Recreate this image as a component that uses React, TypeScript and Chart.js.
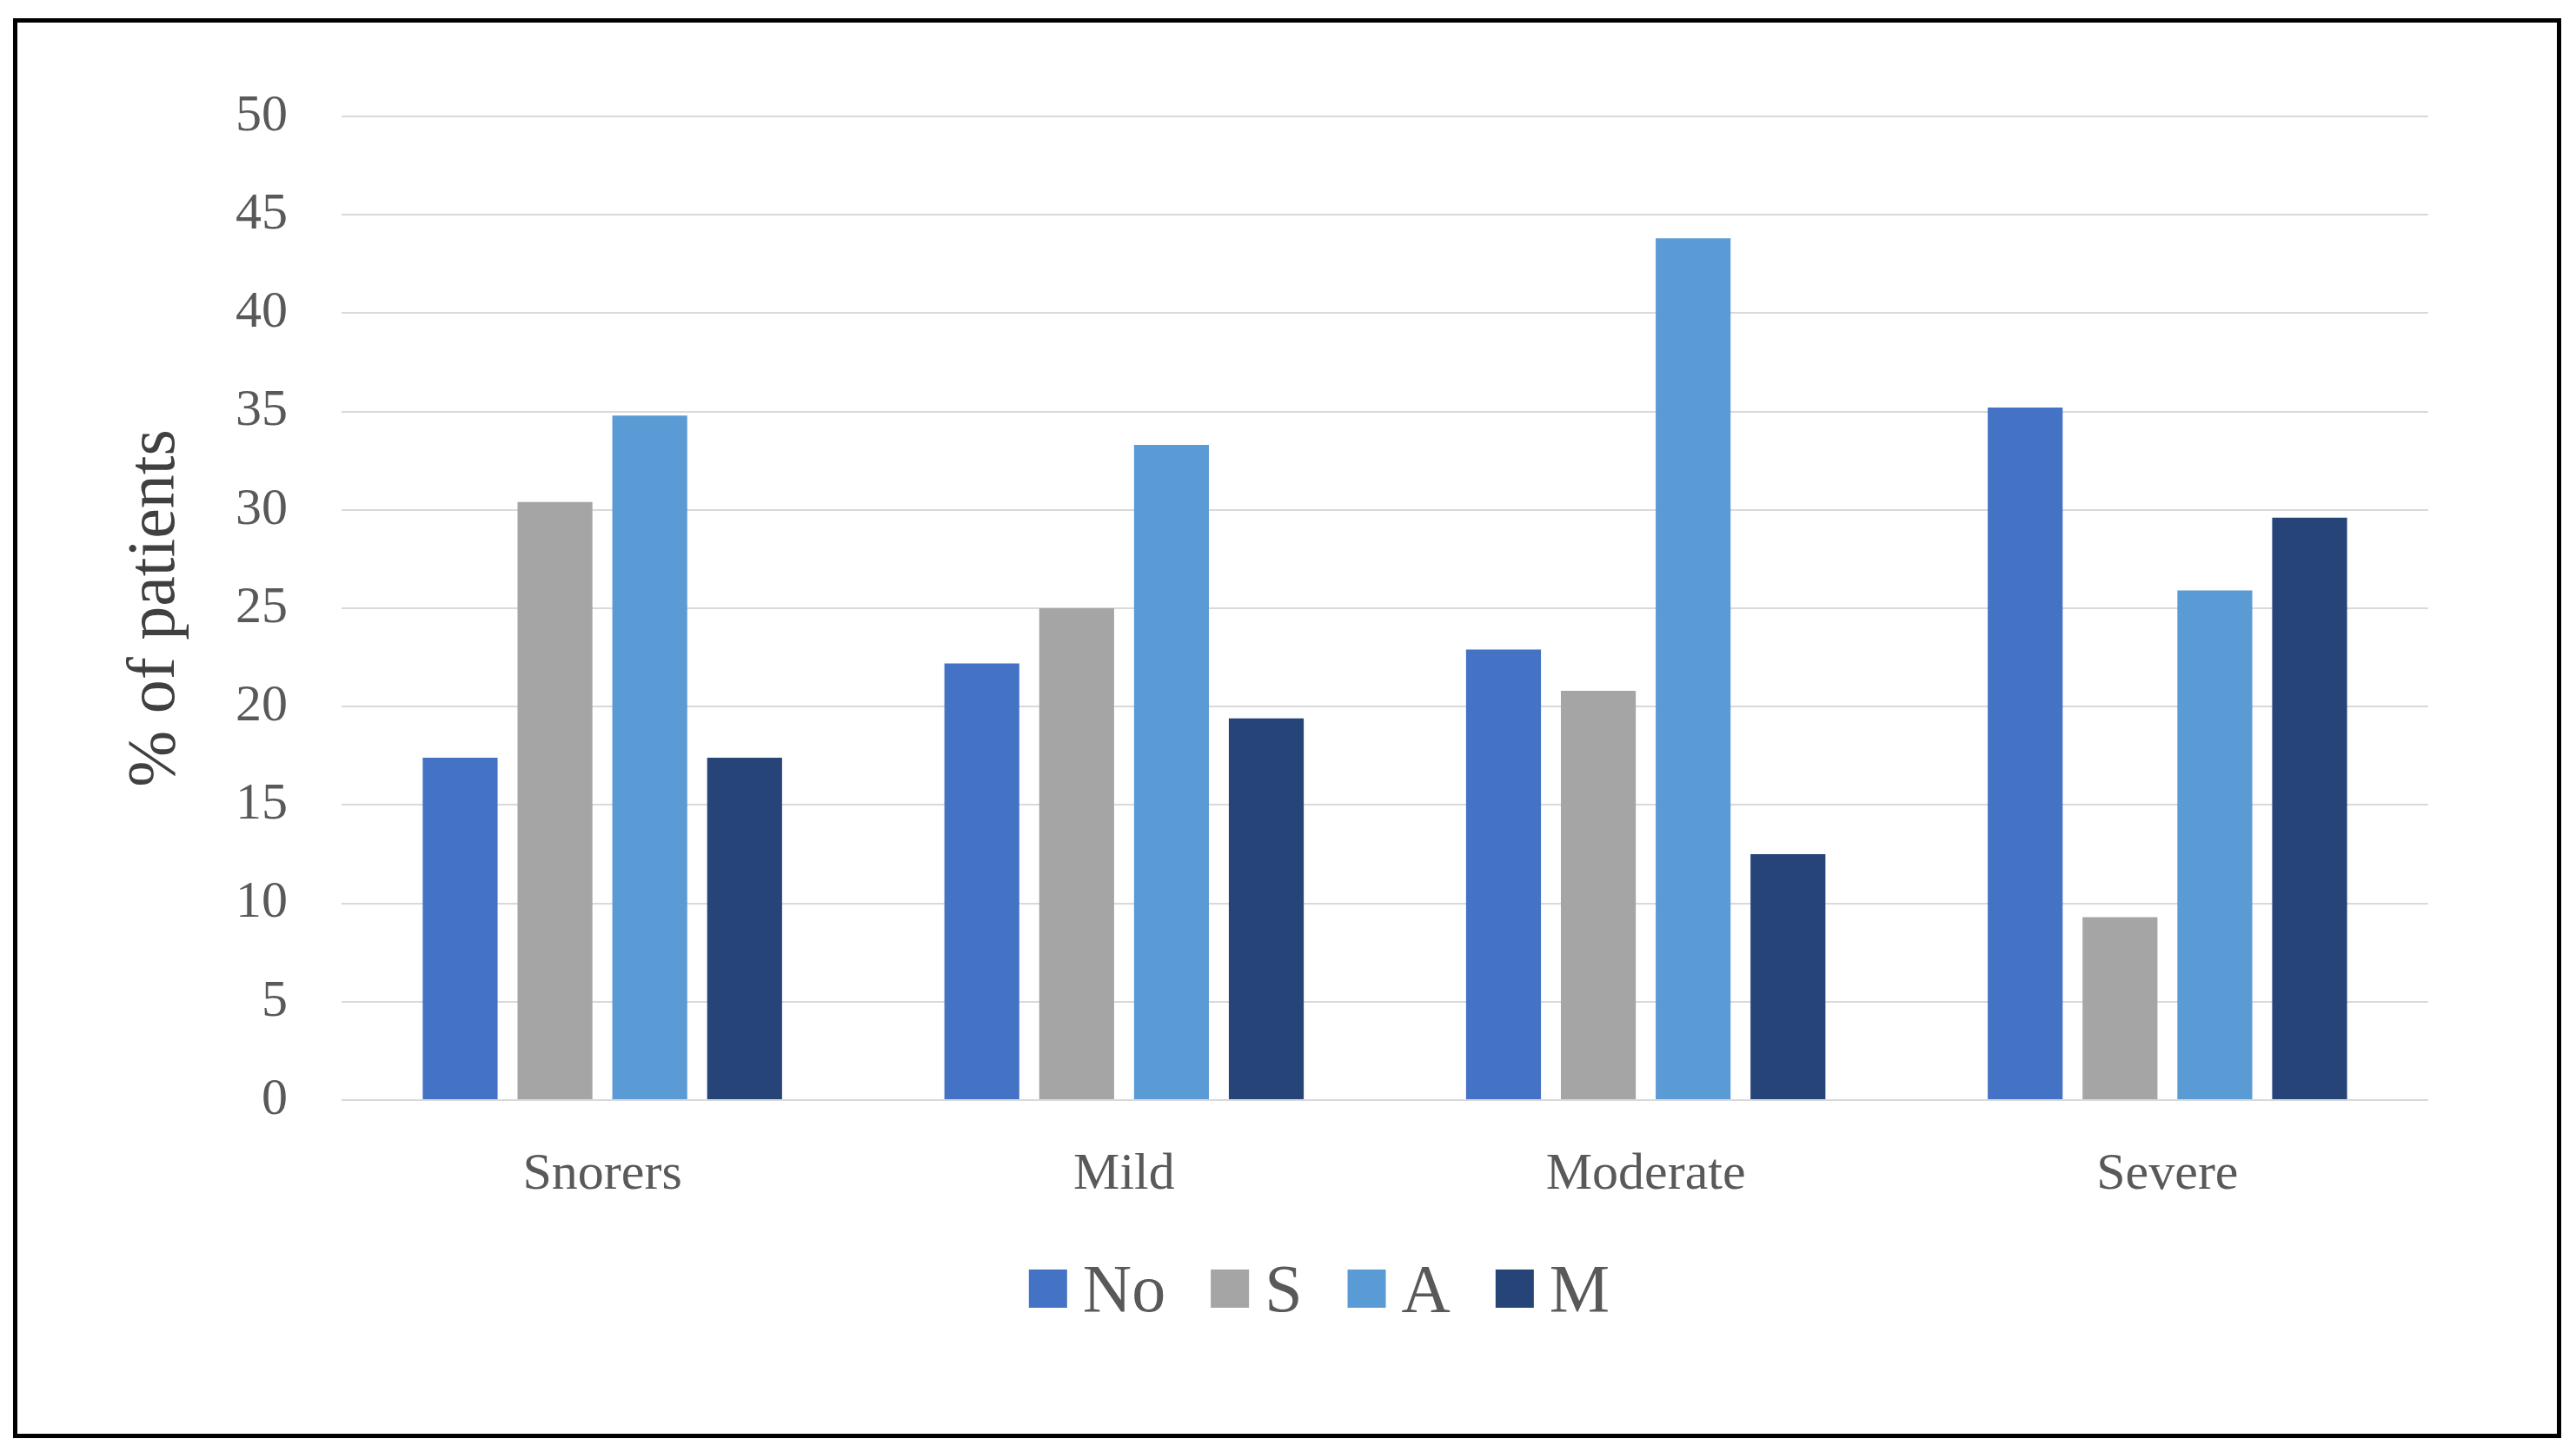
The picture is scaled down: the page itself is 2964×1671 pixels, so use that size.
import React, { useEffect, useRef } from "react";
import { Chart, registerables } from "chart.js";

Chart.register(...registerables);

const categories = ["Snorers", "Mild", "Moderate", "Severe"];
const seriesNames = ["No", "S", "A", "M"];
const noValues = [17.4, 22.2, 22.9, 35.2];
const sValues = [30.4, 25.0, 20.8, 9.3];
const aValues = [34.8, 33.3, 43.8, 25.9];
const mValues = [17.4, 19.4, 12.5, 29.6];
const seriesColors = ["#4472C4", "#A5A5A5", "#5B9BD5", "#264478"];
const yMin = 0;
const yMax = 50;
const yStep = 5;
const yTitle = "% of patients";

const FONT = "'Liberation Serif', 'Times New Roman', serif";
const TEXT_COLOR = "#595959";

const legendPlugin = {
  id: "bottomLegend",
  afterDraw(chart: any) {
    const ctx = chart.ctx as CanvasRenderingContext2D;
    ctx.save();
    ctx.font = `78px ${FONT}`;
    const box = 44;
    const gapText = 18;
    const gapItem = 52;
    const items = chart.data.datasets.map((ds: any) => ({
      label: ds.label as string,
      color: ds.backgroundColor as string,
      w: ctx.measureText(ds.label).width,
    }));
    const total =
      items.reduce((s: number, it: any) => s + box + gapText + it.w, 0) +
      gapItem * (items.length - 1);
    let x = chart.width / 2 + 36 - total / 2;
    const cy = chart.chartArea.bottom + 217;
    ctx.textBaseline = "alphabetic";
    ctx.textAlign = "left";
    for (const it of items) {
      ctx.fillStyle = it.color;
      ctx.fillRect(x, cy - box / 2, box, box);
      x += box + gapText;
      ctx.fillStyle = TEXT_COLOR;
      ctx.fillText(it.label, x, cy + 26);
      x += it.w + gapItem;
    }
    ctx.restore();
  },
};

export default function App() {
  const canvasRef = useRef<HTMLCanvasElement | null>(null);

  useEffect(() => {
    if (!canvasRef.current) return;
    const seriesValues = [noValues, sValues, aValues, mValues];
    const chart = new Chart(canvasRef.current, {
      type: "bar",
      data: {
        labels: categories,
        datasets: seriesNames.map((name, i) => ({
          label: name,
          data: seriesValues[i],
          backgroundColor: seriesColors[i],
          borderWidth: 0,
          categoryPercentage: 0.727,
          barPercentage: 0.79,
        })),
      },
      options: {
        animation: false,
        responsive: false,
        maintainAspectRatio: false,
        devicePixelRatio: 1,
        layout: { padding: { left: 100, right: 170, top: 134, bottom: 285 } },
        plugins: {
          legend: { display: false },
          tooltip: { enabled: false },
          title: { display: false },
        },
        scales: {
          x: {
            grid: { display: false, drawTicks: false },
            border: { display: false },
            ticks: {
              color: TEXT_COLOR,
              font: { family: FONT, size: 60 },
              padding: 50,
            },
            afterFit: (scale: any) => {
              scale.height = 120;
            },
          },
          y: {
            min: yMin,
            max: yMax,
            ticks: {
              stepSize: yStep,
              color: TEXT_COLOR,
              font: { family: FONT, size: 60 },
              padding: 62,
            },
            grid: { color: "#D9D9D9", lineWidth: 2, drawTicks: false },
            border: { display: false },
            title: {
              display: true,
              text: yTitle,
              color: "#404040",
              font: { family: FONT, size: 78, weight: "normal" },
              padding: { top: 33, bottom: 40 },
            },
            afterFit: (scale: any) => {
              scale.width = 293;
            },
          },
        },
      },
      plugins: [legendPlugin],
    });
    return () => chart.destroy();
  }, []);

  return (
    <div
      style={{
        position: "absolute",
        left: 0,
        top: 0,
        width: 2964,
        height: 1671,
        background: "#ffffff",
        overflow: "hidden",
      }}
    >
      <canvas
        ref={canvasRef}
        width={2964}
        height={1671}
        style={{ position: "absolute", left: 0, top: 0, width: 2964, height: 1671 }}
      />
      <div
        style={{
          position: "absolute",
          left: 15,
          top: 21,
          width: 2932,
          height: 1634,
          border: "5px solid #000",
          boxSizing: "border-box",
          pointerEvents: "none",
        }}
      />
    </div>
  );
}
